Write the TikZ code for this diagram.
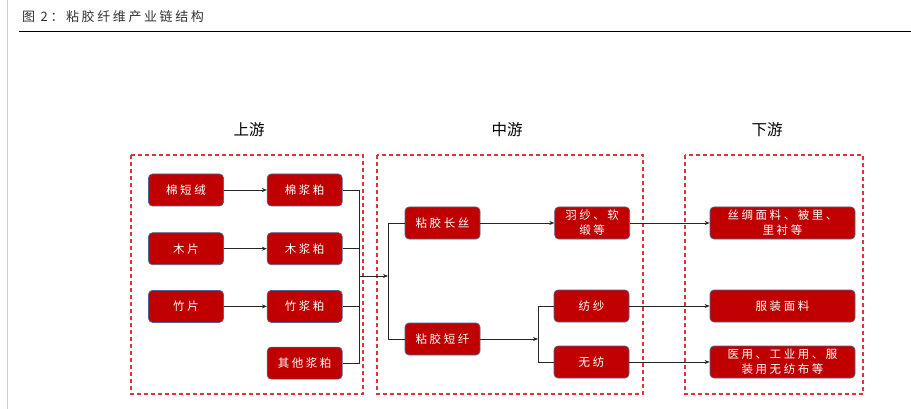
\documentclass[tikz,border=0pt]{standalone}
\usepackage{fontspec}
\setmainfont{Noto Sans CJK SC}
\newfontfamily\cjkbox[LetterSpace=22]{Noto Sans CJK SC}
\newfontfamily\cjktitle[LetterSpace=20]{Noto Sans CJK SC}
\usepackage{tikz}
\usetikzlibrary{arrows.meta, positioning}
\usepackage{xcolor}
\definecolor{cRed}{RGB}{192,0,0}
\definecolor{cEdge}{RGB}{80,100,145}
\definecolor{cFrame}{RGB}{222,50,60}
\definecolor{cTitle}{RGB}{50,50,50}
\definecolor{cRule}{RGB}{205,205,205}
\tikzset{
  chainbox/.style={rectangle, rounded corners=4pt, draw=cEdge, line width=0.7pt,
                   fill=cRed, text=white, align=center, inner sep=0pt,
                   minimum width=75pt, minimum height=32pt,
                   font=\cjkbox\fontsize{11.5}{15}\selectfont},
  widebox/.style={chainbox, minimum width=145pt},
  stagebox/.style={draw=cFrame, line width=1.2pt, dash pattern=on 4pt off 3pt},
  stagelabel/.style={font=\fontsize{15.5}{18}\selectfont},
  link/.style={line width=0.8pt, color=black!85},
  arrow/.style={link, -{Stealth[length=5pt,width=4pt]}}
}
\begin{document}
\begin{tikzpicture}[x=1pt, y=-1pt]

  \useasboundingbox (0,0) rectangle (911,409);

  % page frame and caption
  \draw[cRule, line width=1pt] (7.5,0) -- (7.5,409);
  \node[anchor=west, text=cTitle, font=\cjktitle\fontsize{13}{15}\selectfont, inner sep=0pt]
      (title) at (22,17) {图 2：粘胶纤维产业链结构};
  \draw[line width=1.2pt] (19,31.5) -- (911,31.5);

  % stage frames
  \draw[stagebox] (131,155) rectangle (363,394);
  \draw[stagebox] (377,155) rectangle (643,394);
  \draw[stagebox] (685,155) rectangle (863,394);

  \node[stagelabel] (up)   at (249,130) {上游};
  \node[stagelabel] (mid)  at (507,130) {中游};
  \node[stagelabel] (down) at (767,130) {下游};

  % upstream
  \node[chainbox] (linter) at (186,190) {棉短绒};
  \node[chainbox, below=26pt of linter] (wood)   {木片};
  \node[chainbox, below=25pt of wood]   (bamboo) {竹片};

  \node[chainbox, right=43pt of linter] (linterpulp) {棉浆粕};
  \node[chainbox, right=43pt of wood]   (woodpulp)   {木浆粕};
  \node[chainbox, right=43pt of bamboo] (bamboopulp) {竹浆粕};
  \node[chainbox, below=24pt of bamboopulp] (otherpulp) {其他浆粕};

  % midstream
  \node[chainbox] (filament) at (442.5,223) {粘胶长丝};
  \node[chainbox] (staple)   at (442.5,339) {粘胶短纤};
  \node[chainbox, right=74pt of filament] (lining) {羽纱、软\\缎等};
  \node[chainbox] (spun)     at (591.5,306) {纺纱};
  \node[chainbox] (nonwoven) at (591.5,362) {无纺};

  % downstream
  \node[widebox] (silk)    at (782.5,223) {丝绸面料、被里、\\里衬等};
  \node[widebox] (apparel) at (782.5,306) {服装面料};
  \node[widebox] (medical) at (782.5,362) {医用、工业用、服\\装用无纺布等};

  % bus points
  \coordinate (pulpbus) at (359,276);
  \coordinate (fibrebus) at (388,276);
  \coordinate (staplebus) at (538,339);

  \draw[arrow] (linter) -- (linterpulp);
  \draw[arrow] (wood) -- (woodpulp);
  \draw[arrow] (bamboo) -- (bamboopulp);

  \draw[link] (linterpulp.east) -- (pulpbus |- linterpulp.east)
              -- (pulpbus |- otherpulp.east) -- (otherpulp.east);
  \draw[link] (woodpulp.east) -- (pulpbus |- woodpulp.east);
  \draw[link] (bamboopulp.east) -- (pulpbus |- bamboopulp.east);
  \draw[arrow] (pulpbus) -- (fibrebus);

  \draw[link] (filament.west) -- (fibrebus |- filament.west)
              -- (fibrebus |- staple.west) -- (staple.west);
  \draw[arrow] (filament) -- (lining);
  \draw[arrow] (staple.east) -- (staplebus);
  \draw[link] (spun.west) -- (staplebus |- spun.west)
              -- (staplebus |- nonwoven.west) -- (nonwoven.west);

  \draw[arrow] (lining) -- (silk);
  \draw[arrow] (spun) -- (apparel);
  \draw[arrow] (nonwoven) -- (medical);

\end{tikzpicture}
\end{document}
